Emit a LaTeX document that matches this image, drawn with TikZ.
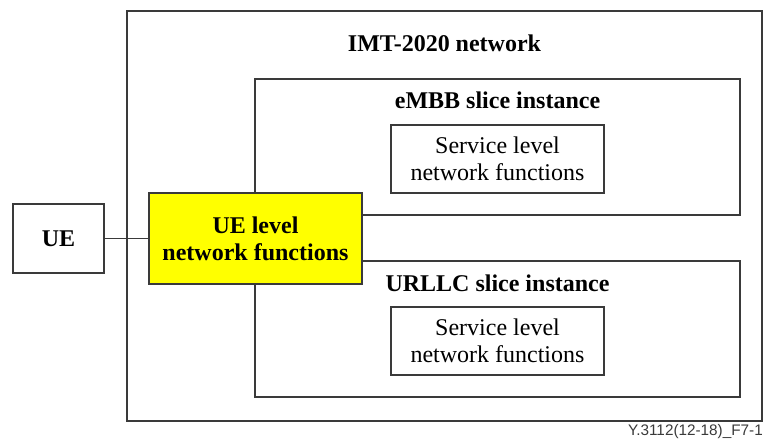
\documentclass[tikz,border=0pt]{standalone}
\usepackage{fontspec}
\setmainfont{Liberation Serif}
\newfontfamily\labelfont{Liberation Sans}
\definecolor{linegray}{HTML}{3A3A3A}
\definecolor{ueyellow}{HTML}{FFFF00}
\begin{document}
\begin{tikzpicture}[x=1pt,y=-1pt,
  box/.style={draw=linegray,line width=1.2pt,rectangle,inner sep=0pt,outer sep=0pt},
  txt/.style={font=\fontsize{24}{27}\selectfont,align=center,inner sep=0pt,text=black},
  btxt/.style={txt,font=\fontsize{24}{27}\selectfont\bfseries},
]
\useasboundingbox (0,0) rectangle (764,443);
% containers
\node[box,minimum width=635pt,minimum height=410pt] (net) at (444.5,216) {};
\node[box,minimum width=485pt,minimum height=136pt] (embb) at (497.5,147) {};
\node[box,minimum width=485pt,minimum height=136pt] (urllc) at (497.5,329) {};
% titles
\node[btxt,anchor=base] (nettitle) at (444.5,52) {IMT-2020 network};
\node[btxt,anchor=base] (embbtitle) at (497.5,109) {eMBB slice instance};
\node[btxt,anchor=base] (urllctitle) at (497.5,292) {URLLC slice instance};
% service boxes
\node[box,txt,minimum width=213pt,minimum height=68pt] (svc1) at (497.5,159) {Service level\\network functions};
\node[box,txt,minimum width=213pt,minimum height=68pt] (svc2) at (497.5,341) {Service level\\network functions};
% UE and UE level functions
\node[box,btxt,minimum width=91pt,minimum height=69pt] (ue) at (58.5,238.5) {UE};
\node[box,btxt,fill=ueyellow,minimum width=213pt,minimum height=91pt] (uelf) at (255.5,238.5) {UE level\\network functions};
\draw[linegray,line width=1.2pt] (ue.east) -- (uelf.west);
% footer
\node[anchor=base east,inner sep=0pt,font=\labelfont\fontsize{15.3}{17}\selectfont,text=linegray] (fig) at (763,436) {Y.3112(12-18)\_F7-1};
\end{tikzpicture}
\end{document}
